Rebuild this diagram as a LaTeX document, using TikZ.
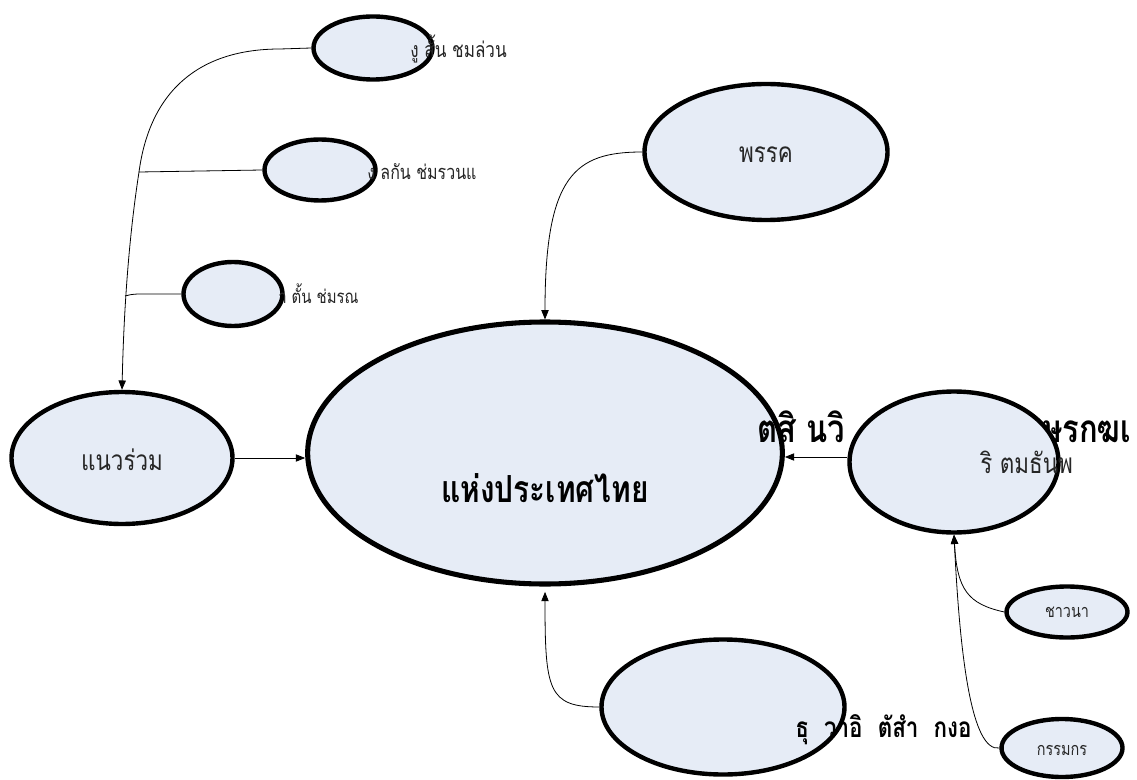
\documentclass[tikz,border=0pt]{standalone}
\usepackage{fontspec}
\newfontfamily\thai[Script=Thai,FakeStretch=0.8]{Loma}
\usetikzlibrary{shapes.geometric,arrows.meta}
\definecolor{ellfill}{RGB}{230,236,246}
\tikzset{
  ell/.style={ellipse, draw=black, line width=3.3pt, fill=ellfill, inner sep=0pt},
  conn/.style={draw=black, line width=0.6pt},
  arr/.style={conn, -{Triangle[length=7pt,width=5.5pt]}},
  lbl/.style={inner sep=0pt, font=\thai, text=black!85}
}
\begin{document}
\begin{tikzpicture}[x=0.75pt,y=-0.75pt]
\useasboundingbox[fill=white] (0,0) rectangle (1137,780);

% ellipses
\node[ell, minimum width=89.25pt, minimum height=47.25pt] (a) at (373,48) {};
\node[ell, minimum width=83.25pt, minimum height=45.75pt] (b) at (320,170) {};
\node[ell, minimum width=74.25pt, minimum height=48pt] (c) at (233,294) {};
\node[ell, line width=3.8pt, minimum width=356pt, minimum height=196.5pt] (main) at (545,453) {};
\node[ell, minimum width=165.75pt, minimum height=99pt] (nr) at (122,458) {};
\node[ell, minimum width=182.25pt, minimum height=102pt] (pk) at (766,152) {};
\node[ell, minimum width=182.25pt, minimum height=101.25pt] (bt) at (723,707) {};
\node[ell, minimum width=90.75pt, minimum height=38.25pt] (ch) at (1067,612) {};
\node[ell, minimum width=90.75pt, minimum height=43.5pt] (km) at (1062,748) {};

% stray large text (behind right ellipse)
\node[lbl, anchor=base west, font=\thai\bfseries\fontsize{29}{32}\selectfont, text=black] (s1) at (757,442) {ตสิ  นวิ};
\node[lbl, anchor=base west, font=\thai\bfseries\fontsize{29}{32}\selectfont, text=black] (s2) at (1042,442) {ษรกฆเ};

\node[ell, minimum width=156.75pt, minimum height=105.75pt] (rt) at (954,462) {};

% connectors
\coordinate (j1) at (139,172);
\coordinate (j2) at (125,296);
\draw[conn] (a.west) -- (280,49) .. controls (200,49) and (150,90) .. (j1);
\draw[arr] (j1) .. controls (130,230) and (124,300) .. (nr.north);
\draw[conn] (b.west) -- (j1);
\draw[conn] (c.west) -- (140,294) .. controls (130,294) and (126,296) .. (j2);
\draw[arr] (nr.east) -- (nr.east -| main.west);
\draw[arr] (pk.west) .. controls (575,152) and (545,175) .. (main.north);
\draw[arr] (rt.west |- 0,457) -- (main.east |- 0,457);
\draw[arr] (bt.west) .. controls (548,707) and (545,690) .. ([yshift=-4pt]main.south);
\draw[arr] (ch.west) .. controls (968,604) and (957,590) .. (rt.south);
\draw[arr] (km.west) .. controls (972,752) and (960,660) .. (rt.south);

% labels
\node[lbl, anchor=base west, font=\thai\fontsize{16}{18}\selectfont] (ta) at (410,58) {งู สั้น ชมล่วน};
\node[lbl, anchor=base west, font=\thai\fontsize{15}{18}\selectfont] (tb) at (367,180) {ง ลกัน ช่มรวนแ};
\node[lbl, anchor=base west, font=\thai\fontsize{14}{17}\selectfont] (tc) at (278,303) {า ตั้น ช่มรณ};
\node[lbl, font=\thai\fontsize{21}{24}\selectfont] (tnr) at (122,460) {แนวร่วม};
\node[lbl, font=\thai\fontsize{21}{24}\selectfont] (tpk) at (766,155) {พรรค};
\node[lbl, font=\thai\bfseries\fontsize{28}{32}\selectfont, text=black] (tmain) at (545,488) {แห่งประเทศไทย};
\node[lbl, anchor=base west, font=\thai\fontsize{21}{24}\selectfont] (trt) at (980,473) {ริ ตมธันพ};
\node[lbl, anchor=base west, font=\thai\bfseries\fontsize{21}{24}\selectfont, text=black] (tbt) at (795,737) {ธุ \ วาอิ \ ตัสำ \ กงอ};
\node[lbl, font=\thai\fontsize{13.5}{15}\selectfont] (tch) at (1067,612) {ชาวนา};
\node[lbl, font=\thai\fontsize{13.5}{15}\selectfont] (tkm) at (1062,750) {กรรมกร};
\end{tikzpicture}
\end{document}
